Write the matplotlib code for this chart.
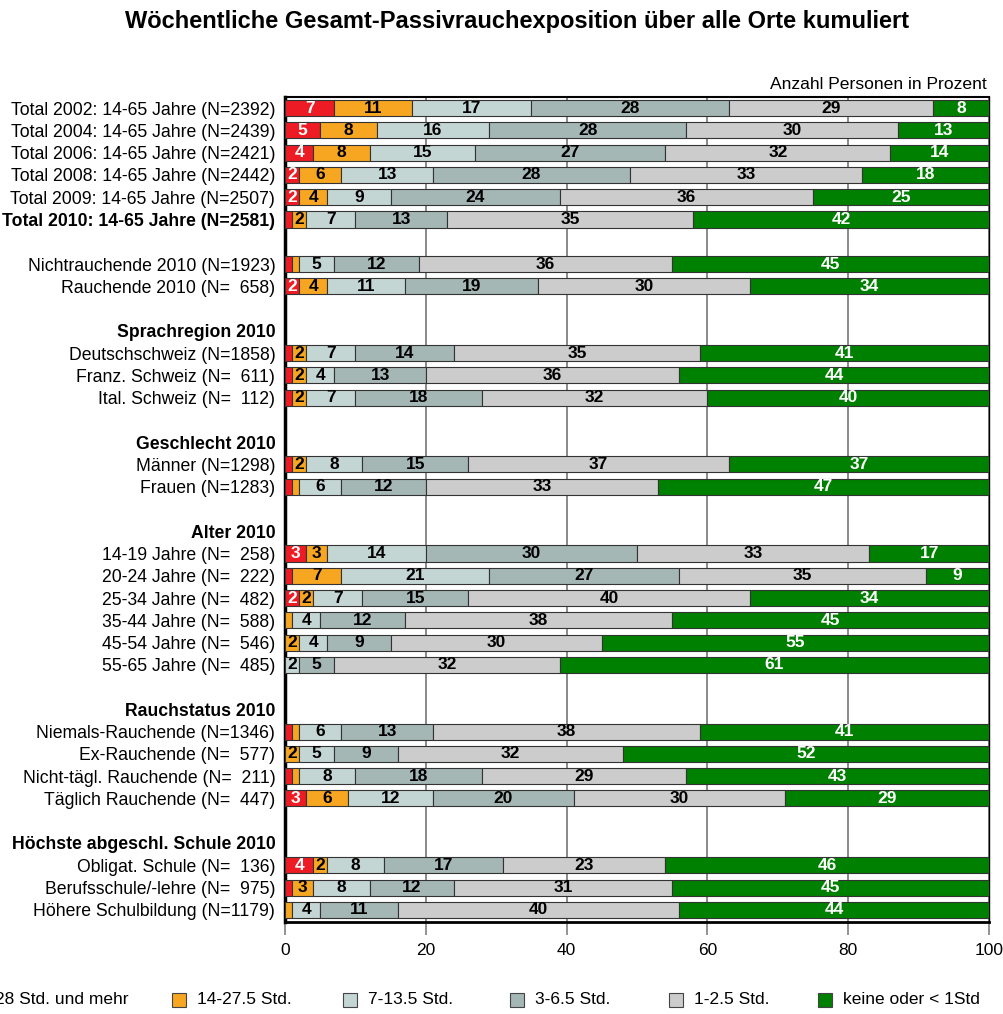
import numpy as np
import matplotlib
matplotlib.use("Agg")
import matplotlib.pyplot as plt
from matplotlib.patches import Rectangle

plt.rcParams['font.family'] = ['Liberation Sans', 'DejaVu Sans']

# row layout: (label, kind) kind: 'bar', 'boldbar', 'head', 'blank'
rows = [
    ("Total 2002: 14-65 Jahre (N=2392)", 'bar'),
    ("Total 2004: 14-65 Jahre (N=2439)", 'bar'),
    ("Total 2006: 14-65 Jahre (N=2421)", 'bar'),
    ("Total 2008: 14-65 Jahre (N=2442)", 'bar'),
    ("Total 2009: 14-65 Jahre (N=2507)", 'bar'),
    ("Total 2010: 14-65 Jahre (N=2581)", 'boldbar'),
    ("", 'blank'),
    ("Nichtrauchende 2010 (N=1923)", 'bar'),
    ("Rauchende 2010 (N=  658)", 'bar'),
    ("", 'blank'),
    ("Sprachregion 2010", 'head'),
    ("Deutschschweiz (N=1858)", 'bar'),
    ("Franz. Schweiz (N=  611)", 'bar'),
    ("Ital. Schweiz (N=  112)", 'bar'),
    ("", 'blank'),
    ("Geschlecht 2010", 'head'),
    ("Männer (N=1298)", 'bar'),
    ("Frauen (N=1283)", 'bar'),
    ("", 'blank'),
    ("Alter 2010", 'head'),
    ("14-19 Jahre (N=  258)", 'bar'),
    ("20-24 Jahre (N=  222)", 'bar'),
    ("25-34 Jahre (N=  482)", 'bar'),
    ("35-44 Jahre (N=  588)", 'bar'),
    ("45-54 Jahre (N=  546)", 'bar'),
    ("55-65 Jahre (N=  485)", 'bar'),
    ("", 'blank'),
    ("Rauchstatus 2010", 'head'),
    ("Niemals-Rauchende (N=1346)", 'bar'),
    ("Ex-Rauchende (N=  577)", 'bar'),
    ("Nicht-tägl. Rauchende (N=  211)", 'bar'),
    ("Täglich Rauchende (N=  447)", 'bar'),
    ("", 'blank'),
    ("Höchste abgeschl. Schule 2010", 'head'),
    ("Obligat. Schule (N=  136)", 'bar'),
    ("Berufsschule/-lehre (N=  975)", 'bar'),
    ("Höhere Schulbildung (N=1179)", 'bar'),
]

series_names = ["28 Std. und mehr", "14-27.5 Std.", "7-13.5 Std.",
                "3-6.5 Std.", "1-2.5 Std.", "keine oder < 1Std"]

# values for bar rows, in order
s28 = [7, 5, 4, 2, 2, 1, 1, 2, 1, 1, 1, 1, 1, 3, 1, 2, 0, 0, 0, 1, 0, 1, 3, 4, 1, 0]
s14 = [11, 8, 8, 6, 4, 2, 1, 4, 2, 2, 2, 2, 1, 3, 7, 2, 1, 2, 0, 1, 2, 1, 6, 2, 3, 1]
s7 = [17, 16, 15, 13, 9, 7, 5, 11, 7, 4, 7, 8, 6, 14, 21, 7, 4, 4, 2, 6, 5, 8, 12, 8, 8, 4]
s3 = [28, 28, 27, 28, 24, 13, 12, 19, 14, 13, 18, 15, 12, 30, 27, 15, 12, 9, 5, 13, 9, 18, 20, 17, 12, 11]
s1 = [29, 30, 32, 33, 36, 35, 36, 30, 35, 36, 32, 37, 33, 33, 35, 40, 38, 30, 32, 38, 32, 29, 30, 23, 31, 40]
s0 = [8, 13, 14, 18, 25, 42, 45, 34, 41, 44, 40, 37, 47, 17, 9, 34, 45, 55, 61, 41, 52, 43, 29, 46, 45, 44]

colors = ["#ED1C24", "#F7A621", "#C4D6D4", "#A4B7B5", "#CCCCCC", "#008000"]
text_colors = ["white", "black", "black", "black", "black", "white"]

fig = plt.figure(figsize=(10.04, 10.14), dpi=100)
ax = fig.add_axes([0.2839, 0.0907, 0.7012, 0.8136])

bar_y = [i for i, (lab, kind) in enumerate(rows) if kind in ('bar', 'boldbar')]
data = np.array([s28, s14, s7, s3, s1, s0], dtype=float)

left = np.zeros(len(bar_y))
for k in range(6):
    vals = data[k]
    ax.barh(bar_y, vals, left=left, height=0.72, color=colors[k],
            edgecolor="#333333", linewidth=0.8, zorder=3)
    for y, l, v in zip(bar_y, left, vals):
        if v >= 2:
            ax.text(l + v / 2, y, f"{v:.0f}", ha='center', va='center',
                    fontsize=12.5, fontweight='bold', color=text_colors[k], zorder=4)
    left = left + vals

ax.set_xlim(0, 100)
ax.set_ylim(len(rows) - 1 + 0.55, -0.5)
ax.set_xticks([0, 20, 40, 60, 80, 100])
ax.tick_params(axis='x', direction='out', length=9, color='#808080', width=1.2,
               labelsize=12.5, pad=6)
ax.set_yticks(range(len(rows)))
ax.set_yticklabels([lab for lab, kind in rows], fontsize=12.7)
ax.tick_params(axis='y', length=0, pad=7)
for t, (lab, kind) in zip(ax.get_yticklabels(), rows):
    if kind in ('head', 'boldbar'):
        t.set_fontweight('bold')

ax.grid(axis='x', color='#808080', linewidth=1.3, zorder=0)
ax.set_axisbelow(True)
ax.spines['left'].set_linewidth(2.5)
ax.spines['top'].set_linewidth(1.5)
ax.spines['right'].set_linewidth(1.0)
ax.spines['bottom'].set_linewidth(2.0)

fig.text(0.515, 0.979, "Wöchentliche Gesamt-Passivrauchexposition über alle Orte kumuliert",
         ha='center', va='center', fontsize=17, fontweight='bold')
fig.text(0.983, 0.917, "Anzahl Personen in Prozent", ha='right', va='center', fontsize=12.6)

# legend along the bottom
leg_x = [-30, 172, 343, 510, 669, 818]
for px, name, c in zip(leg_x, series_names, colors):
    fig.patches.append(Rectangle((px / 1004, 1 - 1007 / 1014), 14 / 1004, 14 / 1014,
                                 facecolor=c, edgecolor='#444444', linewidth=0.8,
                                 transform=fig.transFigure, figure=fig))
    fig.text((px + 25) / 1004, 1 - 1000 / 1014, name, ha='left', va='center', fontsize=12.5)

fig.savefig("out.png", dpi=100)
